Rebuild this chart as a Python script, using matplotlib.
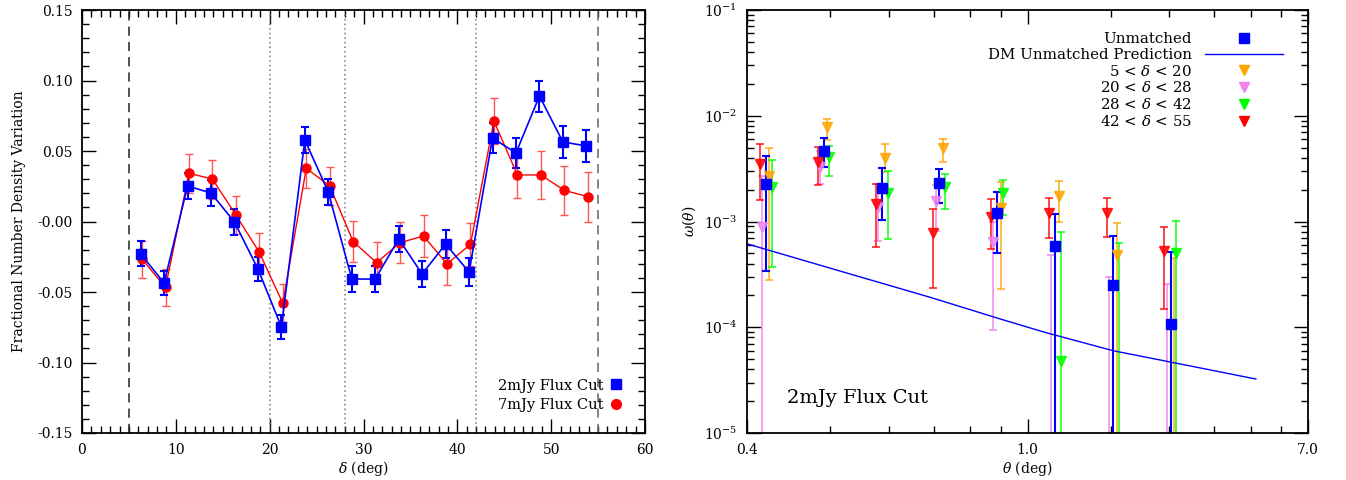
import numpy as np
import matplotlib
matplotlib.use('Agg')
import matplotlib.pyplot as plt
from matplotlib.lines import Line2D
from matplotlib.ticker import LogLocator, NullFormatter

plt.rcParams['font.family'] = ['DejaVu Serif']
plt.rcParams['mathtext.fontset'] = 'dejavuserif'
plt.rcParams['font.size'] = 10

# ---- left panel data: fractional number density variation vs declination
delta = np.arange(6.25, 55, 2.5)
frac_2mjy = [-0.023, -0.0436, 0.0252, 0.0202, -0.0004, -0.0337, -0.0748, 0.0578, 0.0209, -0.0408,
             -0.0408, -0.0124, -0.0372, -0.016, -0.0358, 0.0592, 0.0486, 0.089, 0.0564, 0.0536]
err_2mjy = [0.0089, 0.0083, 0.0089, 0.0089, 0.0092, 0.0086, 0.0087, 0.0094, 0.0094, 0.0089,
            0.009, 0.0094, 0.0094, 0.0097, 0.0098, 0.0105, 0.0106, 0.011, 0.0111, 0.0116]
frac_7mjy = [-0.0268, -0.0467, 0.0342, 0.0301, 0.0046, -0.0219, -0.058, 0.0377, 0.0252, -0.0143,
             -0.0292, -0.015, -0.0103, -0.0301, -0.0162, 0.0713, 0.033, 0.033, 0.0221, 0.0176]
err_7mjy = [0.0133, 0.0131, 0.0137, 0.0138, 0.0138, 0.0135, 0.0136, 0.0138, 0.0138, 0.0144,
            0.0145, 0.0145, 0.0149, 0.0149, 0.0153, 0.0163, 0.0165, 0.0167, 0.0172, 0.0177]
dec_limits = [5, 55]
dec_bins = [20, 28, 42]

# ---- right panel data: angular correlation (lo/hi = error bar ends, 1e-6 = off the plot)
th_unm = [0.440, 0.5924, 0.795, 1.066, 1.432, 1.926, 2.584, 3.48]
w_unm = [2.277e-3, 4.67e-3, 2.09e-3, 2.33e-3, 1.21e-3, 5.86e-4, 2.52e-4, 1.08e-4]
hi_unm = [4.19e-3, 6.16e-3, 3.18e-3, 3.11e-3, 1.90e-3, 1.19e-3, 7.29e-4, 5.12e-4]
lo_unm = [3.43e-4, 3.27e-3, 1.03e-3, 1.51e-3, 5.07e-4, 1e-6, 1e-6, 1e-6]

th_d1 = [0.4485, 0.6025, 0.810, 1.089, 1.462, 1.965, 2.638, 3.54]
w_d1 = [2.69e-3, 7.77e-3, 3.96e-3, 4.99e-3, 1.33e-3, 1.74e-3, 4.82e-4, 1e-6]
hi_d1 = [4.99e-3, 9.32e-3, 5.37e-3, 6.07e-3, 2.38e-3, 2.43e-3, 9.6e-4, 4.55e-4]
lo_d1 = [2.80e-4, 5.94e-3, 2.94e-3, 3.63e-3, 2.29e-4, 9.8e-4, 1e-6, 1e-6]

th_d2 = [0.431, 0.5804, 0.779, 1.048, 1.406, 1.887, 2.536, 3.41]
w_d2 = [8.93e-4, 3.3e-3, 1.38e-3, 1.56e-3, 6.35e-4, 1e-6, 1e-6, 1e-6]
hi_d2 = [2.69e-3, 4.6e-3, 2.26e-3, 2.21e-3, 1.0e-3, 4.82e-4, 2.96e-4, 2.55e-4]
lo_d2 = [1e-6, 2.26e-3, 6.58e-4, 8.19e-4, 9.4e-5, 1e-6, 1e-6, 1e-6]

th_d3 = [0.4536, 0.6088, 0.820, 1.100, 1.474, 1.986, 2.665, 3.576]
w_d3 = [2.13e-3, 4.05e-3, 1.87e-3, 2.10e-3, 1.85e-3, 4.80e-5, 1e-6, 5.07e-4]
hi_d3 = [3.79e-3, 5.21e-3, 2.99e-3, 2.83e-3, 2.48e-3, 8.02e-4, 6.3e-4, 1.02e-3]
lo_d3 = [3.69e-4, 2.69e-3, 6.79e-4, 1.30e-3, 1.15e-3, 1e-6, 1e-6, 1e-6]

th_d4 = [0.4277, 0.5737, 0.7716, 1.035, 1.389, 1.868, 2.507, 3.364]
w_d4 = [3.47e-3, 3.68e-3, 1.455e-3, 7.84e-4, 1.11e-3, 1.21e-3, 1.21e-3, 5.30e-4]
hi_d4 = [5.37e-3, 5.10e-3, 2.26e-3, 1.30e-3, 1.62e-3, 1.66e-3, 1.68e-3, 8.93e-4]
lo_d4 = [1.587e-3, 2.21e-3, 5.70e-4, 2.34e-4, 5.49e-4, 6.98e-4, 7.18e-4, 1.48e-4]

th_dm = [0.4, 0.643, 1.018, 1.454, 1.829, 2.59, 3.834, 5.365]
w_dm = [6.15e-4, 3.40e-4, 1.92e-4, 1.20e-4, 8.95e-5, 6.0e-5, 4.31e-5, 3.24e-5]

fig = plt.figure(figsize=(13.46, 4.8), dpi=100)

def style_axes(ax):
    ax.tick_params(which='both', direction='in', top=True, right=True, width=1, colors='black')
    ax.tick_params(which='major', length=10, labelsize=10, pad=7)
    ax.tick_params(which='minor', length=5)
    for s in ax.spines.values():
        s.set_linewidth(1.3)

# ================= left panel
ax1 = fig.add_axes([82/1346, 1-433/480, 563/1346, 423/480])
for d in dec_limits:
    ax1.axvline(d, color='#222222' if d < 30 else '#666666', ls=(0, (6, 4)), lw=1.1)
for d in dec_bins:
    ax1.axvline(d, color='#777777', ls=(0, (1, 2)), lw=1.1)

ax1.errorbar(delta + 0.15, frac_7mjy, yerr=err_7mjy, color='red', marker='o', ms=6.5,
             lw=1, elinewidth=1, ecolor='#ff5555', capsize=3, capthick=1)
ax1.errorbar(delta, frac_2mjy, yerr=err_2mjy, color='blue', marker='s', ms=6.5,
             lw=1.2, elinewidth=1.5, capsize=3, capthick=1.5)

ax1.set_xlim(0, 60)
ax1.set_ylim(-0.15, 0.15)
ax1.set_xticks(np.arange(0, 61, 10))
ax1.set_xticks(np.arange(0, 61, 1), minor=True)
ax1.set_yticks(np.arange(-0.15, 0.151, 0.05))
ax1.set_yticks(np.arange(-0.15, 0.151, 0.01), minor=True)
ax1.set_yticklabels(['-0.15', '-0.10', '-0.05', '-0.00', '0.05', '0.10', '0.15'])
ax1.set_xlabel(r'$\delta$ (deg)', fontsize=10, labelpad=2)
ax1.set_ylabel('Fractional Number Density Variation', fontsize=10, labelpad=8)
style_axes(ax1)

h1 = [Line2D([], [], color='blue', marker='s', ls='none', ms=7),
      Line2D([], [], color='red', marker='o', ls='none', ms=7)]
ax1.legend(h1, ['2mJy Flux Cut', '7mJy Flux Cut'], loc='lower right', frameon=False,
           markerfirst=False, handlelength=0.8, handletextpad=0.5, labelspacing=0.4,
           fontsize=10.5, borderaxespad=0, bbox_to_anchor=(0.97, 0.035))

# ================= right panel
ax2 = fig.add_axes([747/1346, 1-433/480, 561/1346, 423/480])
ax2.set_xscale('log')
ax2.set_yscale('log')

groups = [
    (th_d1, w_d1, lo_d1, hi_d1, '#ffa500'),
    (th_d2, w_d2, lo_d2, hi_d2, '#ee82ee'),
    (th_d3, w_d3, lo_d3, hi_d3, '#00ff00'),
    (th_d4, w_d4, lo_d4, hi_d4, '#ff0000'),
]
for th, w, lo, hi, c in groups:
    w = np.array(w)
    yerr = [w - np.array(lo), np.array(hi) - w]
    ax2.errorbar(th, w, yerr=yerr, color=c, marker='v', ms=7, ls='none',
                 elinewidth=1.2, capsize=3, capthick=1.2, alpha=0.85)
w = np.array(w_unm)
ax2.errorbar(th_unm, w, yerr=[w - np.array(lo_unm), np.array(hi_unm) - w], color='blue',
             marker='s', ms=7, ls='none', elinewidth=1.5, capsize=3, capthick=1.5)
ax2.plot(th_dm, w_dm, color='blue', lw=1)

ax2.set_xlim(0.4, 7.0)
ax2.set_ylim(1e-5, 1e-1)
mid = np.sqrt(0.4 * 7.0)
ax2.set_xticks([0.4, mid, 7.0])
ax2.set_xticklabels(['0.4', '1.0', '7.0'])
minor = list(0.4 + (mid - 0.4) * np.arange(1, 6) / 6) + list(mid + (7.0 - mid) * np.arange(1, 6) / 6)
ax2.set_xticks(minor, minor=True)
ax2.xaxis.set_minor_formatter(NullFormatter())
ax2.yaxis.set_major_locator(LogLocator(base=10, numticks=10))
ax2.yaxis.set_minor_locator(LogLocator(base=10, subs=np.arange(2, 10), numticks=50))
ax2.yaxis.set_minor_formatter(NullFormatter())
ax2.set_xlabel(r'$\theta$ (deg)', fontsize=10, labelpad=2)
ax2.set_ylabel(r'$\omega(\theta)$', fontsize=10, labelpad=4)
style_axes(ax2)

ax2.text(0.072, 0.07, '2mJy Flux Cut', transform=ax2.transAxes, fontsize=14)

h2 = [Line2D([], [], color='blue', marker='s', ls='none', ms=7),
      Line2D([], [], color='blue', lw=1),
      Line2D([], [], color='#ffa500', marker='v', ls='none', ms=7),
      Line2D([], [], color='#ee82ee', marker='v', ls='none', ms=7),
      Line2D([], [], color='#00ff00', marker='v', ls='none', ms=7),
      Line2D([], [], color='#ff0000', marker='v', ls='none', ms=7)]
lab2 = ['Unmatched', 'DM Unmatched Prediction', r'5 < $\delta$ < 20', r'20 < $\delta$ < 28',
        r'28 < $\delta$ < 42', r'42 < $\delta$ < 55']
ax2.legend(h2, lab2, loc='upper right', frameon=False, markerfirst=False, handlelength=5.2,
           handletextpad=0.9, labelspacing=0.12, fontsize=10.8, borderaxespad=0,
           bbox_to_anchor=(0.967, 0.962))

fig.savefig('out.png', dpi=100)
